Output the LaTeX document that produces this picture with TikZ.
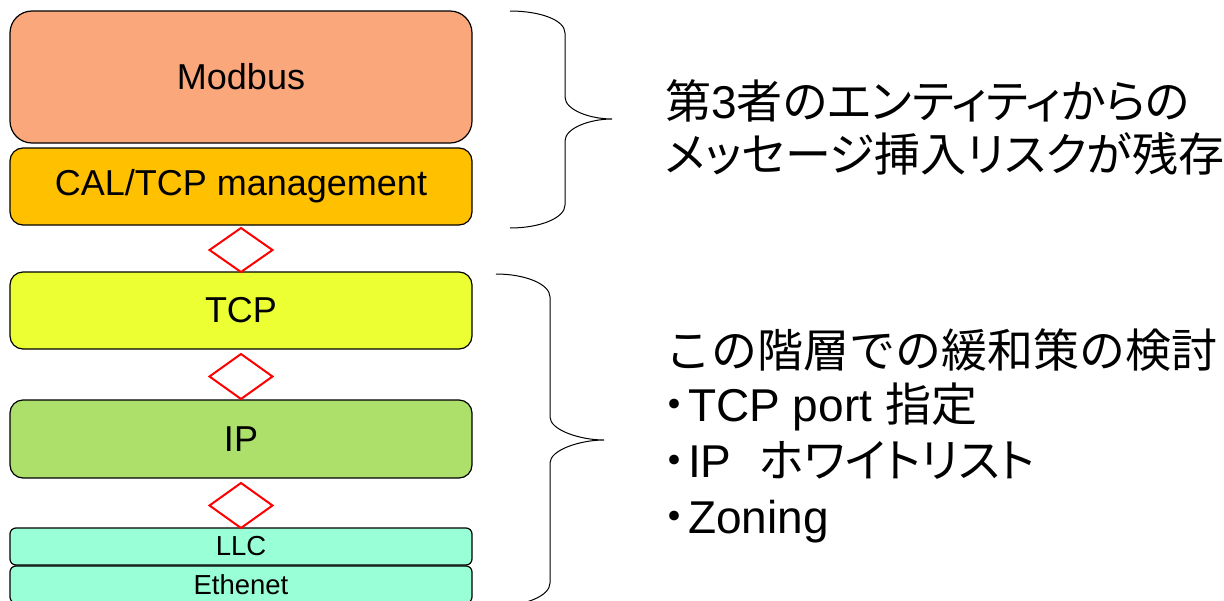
\documentclass[tikz,border=0pt]{standalone}
\usepackage{fontspec}
\setmainfont{Liberation Sans}
\newfontfamily\jp[RawFeature=+palt]{Noto Sans CJK JP}
\newfontfamily\jpm{Noto Sans CJK JP}
\definecolor{cModbus}{RGB}{251,167,124}
\definecolor{cCal}{RGB}{255,192,0}
\definecolor{cTcp}{RGB}{236,255,51}
\definecolor{cIp}{RGB}{173,223,107}
\definecolor{cLink}{RGB}{153,255,214}
\tikzset{
  layer/.style={draw=black, line width=1.2pt, minimum width=462pt, inner sep=0pt, font=\fontsize{36}{40}\selectfont},
  small/.style={layer, font=\fontsize{27.5}{30}\selectfont},
  rhomb/.style={draw=red, line width=2pt, fill=white},
  brace/.style={draw=black, line width=1pt},
  rtext/.style={anchor=base west, inner sep=0pt, font=\fontsize{46}{55}\selectfont}
}
\begin{document}
\begin{tikzpicture}[x=1pt,y=-1pt]
\useasboundingbox (0,0) rectangle (1224,600);
\clip (0,0) rectangle (1224,600);
\fill[white] (0,0) rectangle (1224,600);
% layers
\node[layer, fill=cModbus, minimum height=132pt, rounded corners=22pt] (modbus) at (241,77) {Modbus};
\node[layer, fill=cCal, minimum height=77pt, rounded corners=13pt] (cal) at (241,186.5) {CAL/TCP management};
\node[layer, fill=cTcp, minimum height=77pt, rounded corners=13pt] (tcp) at (241,310.5) {TCP};
\node[layer, fill=cIp, minimum height=78pt, rounded corners=13pt] (ip) at (241,439) {IP};
\node[small, fill=cLink, minimum height=37pt, rounded corners=6pt] (llc) at (241,546.5) {LLC};
\node[small, fill=cLink, minimum height=37pt, rounded corners=6pt] (eth) at (241,584.5) {Ethenet};
% diamonds
\path[rhomb] (241,228) -- (272.5,250) -- (241,272) -- (209.5,250) -- cycle;
\path[rhomb] (241,354) -- (272.5,376.5) -- (241,399) -- (209.5,376.5) -- cycle;
\path[rhomb] (241,483) -- (272.5,505.5) -- (241,528) -- (209.5,505.5) -- cycle;
% braces
\draw[brace] (510,11) .. controls (540,11) and (565,20) .. (565,33) -- (565,97)
  .. controls (565,110) and (590,119) .. (612,119)
  .. controls (590,119) and (565,128) .. (565,141) -- (565,205)
  .. controls (565,218) and (540,228) .. (510,228);
\draw[brace] (496,274) .. controls (525,274) and (550,284) .. (550,297) -- (550,417)
  .. controls (550,430) and (580,440) .. (604,440)
  .. controls (580,440) and (550,450) .. (550,463) -- (550,583)
  .. controls (550,596) and (525,606) .. (496,606);
% texts
\node[rtext] (t1) at (665,118) {\jp 第\rmfamily 3\jp 者のエンティティからの};
\node[rtext] (t2) at (665,171) {\jp メッセージ挿入リスクが残存};
\node[rtext] (t3) at (665,367) {\jpm この階層での緩和策の検討};
\node[rtext] (t4) at (663,421) {\jp ・\kern2pt\rmfamily TCP port \jp 指定};
\node[rtext] (t5) at (663,477) {\jp ・\kern2pt\rmfamily IP\hspace{0.6em}\jp ホワイトリスト};
\node[rtext] (t6) at (663,533) {\jp ・\kern2pt\rmfamily Zoning};
\end{tikzpicture}
\end{document}
